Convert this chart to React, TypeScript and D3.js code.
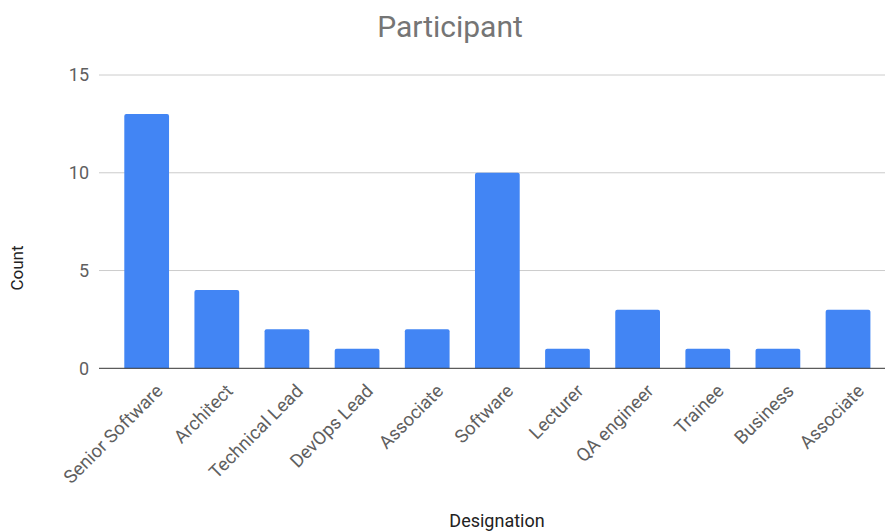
import React from "react";
import * as d3 from "d3";

const categories = ["Senior Software", "Architect", "Technical Lead", "DevOps Lead", "Associate", "Software", "Lecturer", "QA engineer", "Trainee", "Business", "Associate "];
const counts = [13, 4, 2, 1, 2, 10, 1, 3, 1, 1, 3];
const yTicks = [0, 5, 10, 15];
const title = "Participant";
const xTitle = "Designation";
const yTitle = "Count";

const W = 885;
const H = 531;
const FONT = "Roboto, Arial, sans-serif";

export default function App() {
  const x = d3
    .scaleBand<number>()
    .domain(d3.range(categories.length))
    .range([111.6, 883.1])
    .paddingInner(0.362)
    .paddingOuter(0.181);
  const y = d3.scaleLinear().domain([0, 15]).range([368.3, 75]);
  const gridX0 = 99;
  const gridX1 = W;
  const r = 2;

  const barPath = (i: number, v: number) => {
    const x0 = x(i)!;
    const w = x.bandwidth();
    const y0 = y(v);
    const yb = y(0);
    const p = d3.path();
    p.moveTo(x0, yb);
    p.lineTo(x0, y0 + r);
    p.quadraticCurveTo(x0, y0, x0 + r, y0);
    p.lineTo(x0 + w - r, y0);
    p.quadraticCurveTo(x0 + w, y0, x0 + w, y0 + r);
    p.lineTo(x0 + w, yb);
    p.closePath();
    return p.toString();
  };

  return (
    <div style={{ position: "absolute", left: 0, top: 0 }}>
      <svg width={W} height={H} style={{ display: "block", background: "#fff" }}>
        <text x={450} y={37} textAnchor="middle" fontFamily={FONT} fontSize={30} fill="#757575">
          {title}
        </text>
        {yTicks.map((t) => (
          <g key={t}>
            {t !== 0 && (
              <line x1={gridX0} x2={gridX1} y1={y(t)} y2={y(t)} stroke="#cccccc" strokeWidth={1} />
            )}
            <text x={89} y={y(t)} dy="0.35em" textAnchor="end" fontFamily={FONT} fontSize={18} fill="#5f5f5f">
              {t}
            </text>
          </g>
        ))}
        {counts.map((v, i) => (
          <path key={i} d={barPath(i, v)} fill="#4285F4" />
        ))}
        <line x1={gridX0} x2={gridX1} y1={y(0)} y2={y(0)} stroke="#333" strokeWidth={1} />
        {categories.map((c, i) => {
          const cx = x(i)! + x.bandwidth() / 2;
          return (
            <text
              key={i}
              transform={`translate(${cx + 8},${383}) rotate(-45)`}
              textAnchor="end"
              dy="0.7em"
              fontFamily={FONT}
              fontSize={18.5}
              fill="#5f5f5f"
            >
              {c.trim()}
            </text>
          );
        })}
        <text x={497} y={527} textAnchor="middle" fontFamily={FONT} fontSize={18} fill="#222">
          {xTitle}
        </text>
        <text
          transform={`translate(23,268) rotate(-90)`}
          textAnchor="middle"
          fontFamily={FONT}
          fontSize={17}
          fill="#222"
        >
          {yTitle}
        </text>
      </svg>
    </div>
  );
}
